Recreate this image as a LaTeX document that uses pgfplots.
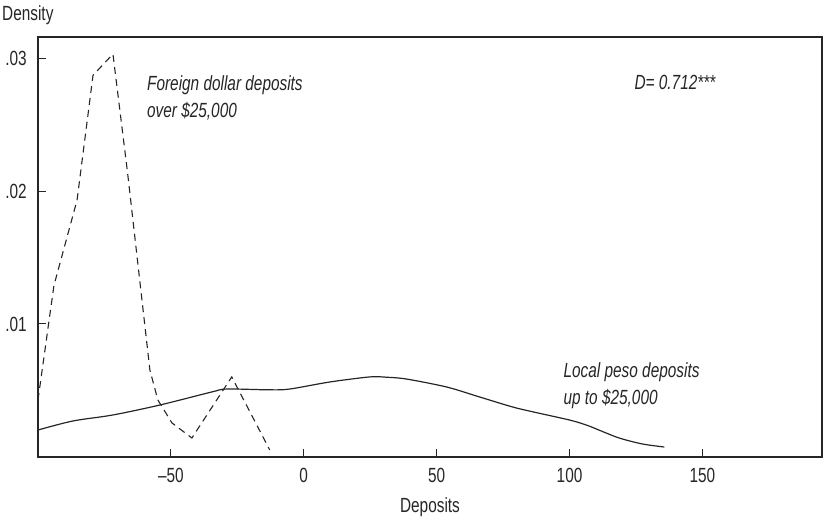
\documentclass[border=0pt]{standalone}
\usepackage{pgfplots}
\pgfplotsset{compat=1.18}
\usepackage{fontspec}
\setmainfont{Liberation Sans}[FakeStretch=0.75]

% Kernel density estimates of deposit changes
\pgfplotstableread{
x y
-100.0 0.00429
-94.0  0.01290
-85.3  0.01932
-79.3  0.02870
-71.8  0.03030
-66.2  0.02120
-57.9  0.00654
-54.9  0.00429
-49.6  0.00256
-42.1  0.00143
-27.1  0.00602
-12.8  0.00053
}\foreign

\pgfplotstableread{
x y
-100.0 0.00203
-86.8  0.00271
-71.8  0.00316
-54.1  0.00391
-34.6  0.00489
-28.9  0.00511
-13.0  0.00505
-5.3   0.00511
9.8    0.00564
24.8   0.00602
31.0   0.00600
38.7   0.00586
53.8   0.00526
66.2   0.00451
78.6   0.00376
87.0   0.00336
100.0  0.00278
106.4  0.00240
112.0  0.00195
118.8  0.00142
127.4  0.00098
135.7  0.00075
}\local

\begin{document}
\begin{tikzpicture}[font=\fontsize{20.5}{27}\selectfont]
\begin{axis}[
  scale only axis, width=784pt, height=420pt,
  xmin=-100, xmax=195, ymin=0, ymax=0.03158,
  axis line style={line width=1.2pt, black!85},
  tick pos=left, tick align=inside, major tick length=8pt,
  tick style={line width=1pt, black!85},
  xtick={-50,0,50,100,150},
  xticklabels={\textendash50,0,50,100,150},
  ytick={0.01,0.02,0.03},
  yticklabels={.01,.02,.03},
  ticklabel style={font=\fontsize{20.5}{24}\selectfont, text=black!85},
  xticklabel style={inner sep=0pt, yshift=-11pt},
  yticklabel style={inner sep=0pt, xshift=-11pt},
  scaled y ticks=false,
]
\addplot[black!85, line width=1.1pt, dash pattern=on 7pt off 5pt] table {\foreign};
\addplot[black!85, line width=1.2pt, smooth, tension=0.5] table {\local};

\node[anchor=north west, inner sep=0pt, align=left, font=\itshape\fontsize{20.5}{27}\selectfont, text=black!85]
  at (axis cs:-59,0.0287) {Foreign dollar deposits\\over \$25,000};
\node[anchor=west, inner sep=0pt, font=\itshape\fontsize{20.5}{27}\selectfont, text=black!85]
  at (axis cs:124.4,0.0282) {D= 0.712***};
\node[anchor=north west, inner sep=0pt, align=left, font=\itshape\fontsize{20.5}{27}\selectfont, text=black!85]
  at (axis cs:97.7,0.0071) {Local peso deposits\\up to \$25,000};
\end{axis}
\node[anchor=west, inner sep=0pt, text=black!85] at ([xshift=-36pt,yshift=22pt]current axis.north west) {Density};
\node[anchor=center, inner sep=0pt, text=black!85] at ([yshift=-50pt]current axis.south) {Deposits};
\pgfresetboundingbox
\path[use as bounding box] ([xshift=-38pt,yshift=-64pt]current axis.south west) rectangle ([xshift=10pt,yshift=37pt]current axis.north east);
\end{tikzpicture}
\end{document}
